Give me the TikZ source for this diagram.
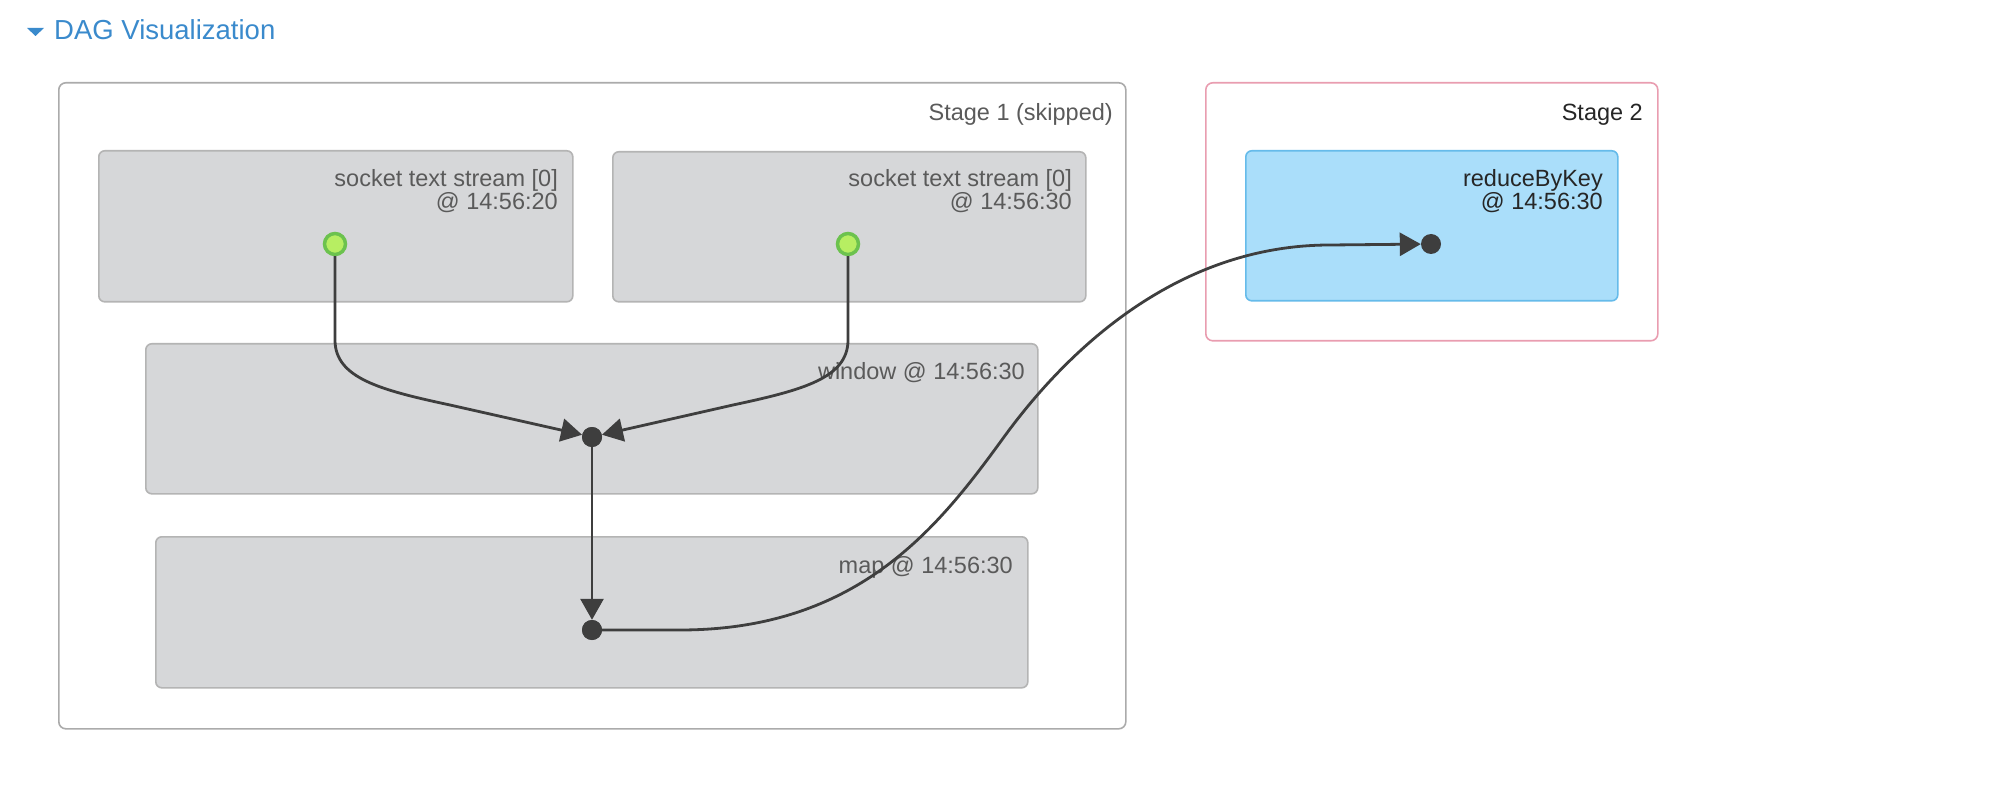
\documentclass[tikz,border=0pt]{standalone}
\usepackage{fontspec}
\setmainfont{Liberation Sans}
\usetikzlibrary{arrows.meta}
\definecolor{linkblue}{HTML}{3A8ACC}
\definecolor{stagegray}{HTML}{ABABAB}
\definecolor{stagepink}{HTML}{E99DB0}
\definecolor{boxfill}{HTML}{D6D7D9}
\definecolor{boxborder}{HTML}{B4B4B4}
\definecolor{bluefill}{HTML}{AADEFA}
\definecolor{blueborder}{HTML}{66BBEA}
\definecolor{edgecol}{HTML}{3E3E3E}
\definecolor{cachefill}{HTML}{B7EE62}
\definecolor{cachestroke}{HTML}{6CC24E}
\definecolor{skiptext}{HTML}{5A5A5A}
\definecolor{darktext}{HTML}{262626}
\tikzset{
  stagebox/.style={draw=stagegray, line width=1.6pt, fill=white, rounded corners=7pt, anchor=north west, inner sep=0pt},
  opbox/.style={draw=boxborder, line width=1.6pt, fill=boxfill, rounded corners=6pt, anchor=north west, inner sep=0pt},
  lbl/.style={anchor=base east, inner sep=0pt, text=skiptext, font=\fontsize{23.5}{23}\selectfont},
  opdot/.style={circle, fill=edgecol, minimum size=20pt, inner sep=0pt},
  cachedot/.style={circle, fill=cachefill, draw=cachestroke, line width=3.5pt, minimum size=21pt, inner sep=0pt},
  edge/.style={draw=edgecol, line width=2.8pt, -{Triangle[length=21pt,width=23pt]}},
}
\begin{document}
\begin{tikzpicture}[x=1pt,y=-1pt]
\useasboundingbox (0,0) rectangle (1998,786);
% title
\fill[linkblue] (27,28) -- (44,28) -- (35.5,36) -- cycle;
\node[anchor=base west, inner sep=0pt, text=linkblue, font=\fontsize{27.5}{30}\selectfont] (title) at (54,40) {DAG Visualization};
% stages
\node[stagebox, minimum width=1067pt, minimum height=646pt] (stage1) at (58,82) {};
\node[stagebox, draw=stagepink, minimum width=452pt, minimum height=258pt] (stage2) at (1205,82) {};
\node[lbl] (stage1lbl) at (1113,121) {Stage 1 (skipped)};
\node[lbl, text=darktext] (stage2lbl) at (1643,121) {Stage 2};
% operation boxes
\node[opbox, minimum width=474pt, minimum height=151pt] (sock1) at (98,150) {};
\node[opbox, minimum width=473pt, minimum height=150pt] (sock2) at (612,151) {};
\node[opbox, minimum width=892pt, minimum height=150pt] (window) at (145,343) {};
\node[opbox, minimum width=872pt, minimum height=151pt] (map) at (155,536) {};
\node[opbox, draw=blueborder, fill=bluefill, minimum width=372pt, minimum height=150pt] (reduce) at (1245,150) {};
% labels
\node[lbl] (sock1a) at (558,187) {socket text stream [0]};
\node[lbl] (sock1b) at (558,210) {@ 14:56:20};
\node[lbl] (sock2a) at (1072,187) {socket text stream [0]};
\node[lbl] (sock2b) at (1072,210) {@ 14:56:30};
\node[lbl] (windowlbl) at (1025,380) {window @ 14:56:30};
\node[lbl] (maplbl) at (1013,573) {map @ 14:56:30};
\node[lbl, text=darktext] (reducea) at (1603,187) {reduceByKey};
\node[lbl, text=darktext] (reduceb) at (1603,210) {@ 14:56:30};
% dots
\node[cachedot] (s1dot) at (335,244) {};
\node[cachedot] (s2dot) at (848,244) {};
\node[opdot] (wdot) at (592,437) {};
\node[opdot] (mdot) at (592,630) {};
\node[opdot] (rdot) at (1431,244) {};
% edges
\draw[edge] (s1dot.south) -- (335,340) .. controls (335,378) and (380,390) .. (450,405) -- (wdot);
\draw[edge] (s2dot.south) -- (848,340) .. controls (848,378) and (803,390) .. (733,405) -- (wdot);
\draw[edge] (wdot) -- (mdot);
\draw[edge] (mdot) -- (680,630) .. controls (860,630) and (940,525) .. (1004,437)
  .. controls (1060,360) and (1170,245) .. (1330,245) -- (rdot);
% redraw dots on top
\node[opdot] at (wdot) {};
\node[opdot] at (mdot) {};
\end{tikzpicture}
\end{document}
